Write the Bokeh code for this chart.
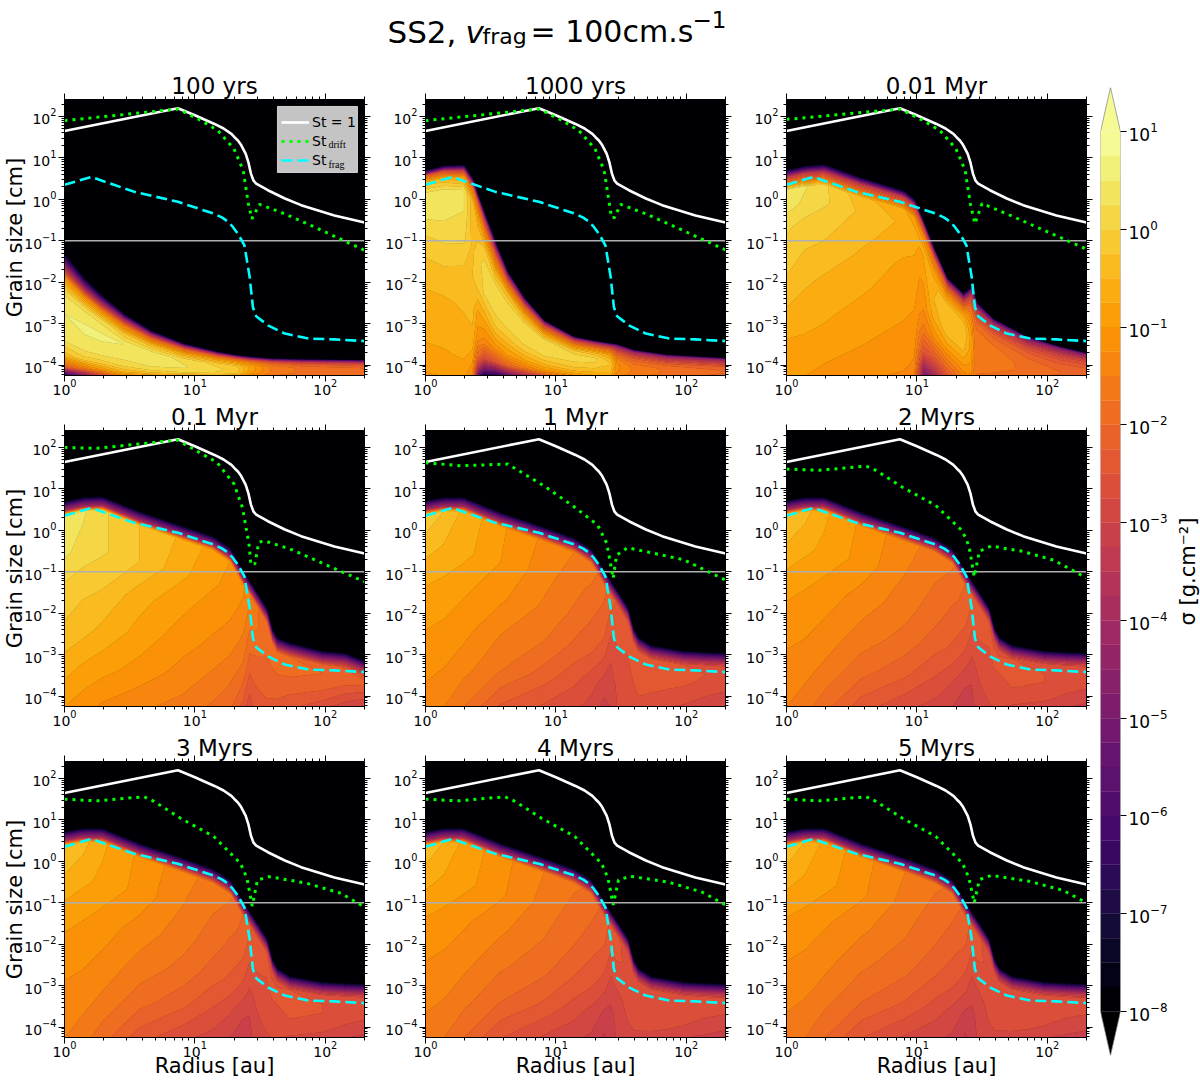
import numpy as np
from bokeh.plotting import figure
from bokeh.plotting.contour import contour_data
from bokeh.layouts import column, row
from bokeh.models import (Range1d, LogAxis, FixedTicker, CustomJSTickFormatter, Label,
                          Legend, LegendItem)
from bokeh.palettes import Inferno256
from bokeh.embed import file_html
from bokeh.resources import INLINE

TITLES = ["100 yrs", "1000 yrs", "0.01 Myr", "0.1 Myr", "1 Myr", "2 Myrs", "3 Myrs", "4 Myrs", "5 Myrs"]
X_MIN, X_MAX = 1, 200
Y_MIN, Y_MAX = 5.6e-5, 257
MAJOR_X = [1, 10, 100]
MAJOR_Y = [1e-4, 1e-3, 1e-2, 1e-1, 1, 10, 100]
LEVELS = list(np.arange(-8, 1.01, 0.25))
HLINE = 0.1

# --- curves (log10 radius, log10 grain size)
ST1_R = [0, .87, 1.0, 1.15, 1.22, 1.28, 1.304, 1.33, 1.355, 1.39, 1.41, 1.43, 1.45, 1.47, 1.56, 1.69, 1.815, 2.07, 2.301]
ST1_A = [1.65, 2.2, 2.03, 1.82, 1.71, 1.58, 1.5, 1.42, 1.31, 1.1, .9, .62, .45, .38, .22, .02, -.14, -.39, -.56]
FRAG_R = [0, .205, .537, .87, 1.15, 1.21, 1.25, 1.29, 1.33, 1.38, 1.42, 1.445, 1.47, 1.56, 1.69, 1.87, 2.07, 2.301]
FRAG_A = [.35, .54, .18, -.06, -.35, -.44, -.53, -.66, -.83, -1.11, -1.87, -2.6, -2.82, -3.04, -3.24, -3.36, -3.38, -3.42]
DRIFT = [
    ([0, .87, 1.05, 1.176, 1.30, 1.37, 1.41, 1.437, 1.496, 1.69, 1.94, 2.301],
     [1.9, 2.18, 1.9, 1.66, 1.22, .70, -.10, -.47, -.12, -.35, -.70, -1.23]),
    ([0, .87, 1.05, 1.176, 1.30, 1.37, 1.41, 1.427, 1.45, 1.496, 1.69, 1.94, 2.301],
     [1.9, 2.18, 1.9, 1.66, 1.22, .70, -.10, -.44, -.44, -.12, -.35, -.70, -1.22]),
    ([0, .87, 1.05, 1.176, 1.30, 1.37, 1.41, 1.445, 1.50, 1.69, 1.94, 2.301],
     [1.93, 2.18, 1.9, 1.66, 1.22, .70, -.10, -.59, -.10, -.35, -.70, -1.2]),
    ([0, .25, .865, 1.17, 1.30, 1.365, 1.415, 1.43, 1.46, 1.49, 1.53, 1.73, 1.99, 2.301],
     [2.0, 1.98, 2.18, 1.64, 1.12, .55, -.33, -.83, -.81, -.29, -.25, -.45, -.81, -1.24]),
    ([0, .27, .63, .69, .91, 1.14, 1.32, 1.39, 1.44, 1.465, 1.55, 1.70, 1.98, 2.301],
     [1.63, 1.56, 1.6, 1.49, 1.07, .57, .13, -.31, -1.16, -.6, -.42, -.52, -.71, -1.2]),
    ([0, .25, .61, .685, .89, 1.145, 1.35, 1.40, 1.44, 1.48, 1.57, 1.80, 2.05, 2.301],
     [1.48, 1.45, 1.55, 1.45, 1.04, .6, -.02, -.38, -1.12, -.5, -.38, -.5, -.72, -1.15]),
    ([0, .25, .61, .685, .89, 1.145, 1.35, 1.40, 1.44, 1.48, 1.57, 1.86, 2.12, 2.301],
     [1.5, 1.46, 1.56, 1.45, 1.04, .6, -.05, -.41, -1.08, -.45, -.37, -.53, -.77, -1.1]),
    ([0, .25, .61, .685, .89, 1.145, 1.35, 1.40, 1.44, 1.48, 1.57, 1.86, 2.12, 2.301],
     [1.5, 1.46, 1.56, 1.45, 1.04, .6, -.05, -.41, -1.05, -.45, -.36, -.5, -.74, -1.05]),
    ([0, .25, .61, .685, .89, 1.145, 1.35, 1.40, 1.44, 1.48, 1.57, 1.86, 2.12, 2.301],
     [1.5, 1.46, 1.56, 1.45, 1.04, .6, -.05, -.41, -1.0, -.44, -.34, -.48, -.7, -1.0]),
]

# --- density field: one list per radial column, rows run from the bottom of the axes to the dust edge
BOTTOM, TOP = -4.27, 2.5

P1_R = [0, .153, .28, .46, .665, .92, 1.176, 1.32, 1.43, 1.6, 1.815, 2.31]
P1_EDGE = [-1.27, -1.87, -2.27, -2.75, -3.16, -3.48, -3.68, -3.76, -3.8, -3.84, -3.86, -3.88]
P1_F = [0, .08, .17, .3, .5, .68, .8, .9, 1]
P1_Z = [
    [-7.5, -2, -.4, .35, .5, .2, -1.2, -4.5, -8],
    [-5, -1.5, -.1, .42, .55, .2, -1.2, -4.5, -8],
    [-3, -1, -.1, .42, .55, .15, -1.3, -4.3, -8],
    [-1.3, -.4, .05, .35, .5, -.25, -1.5, -4, -8],
    [-1.1, -.25, .2, .35, .42, -.4, -1.6, -4, -8],
    [-1, -.2, .2, .28, .15, -.7, -1.8, -4, -8],
    [-1, -.25, -.02, .05, -.1, -.85, -2, -4, -8],
    [-1.1, -.4, -.18, -.1, -.25, -1.0, -2.1, -4, -8],
    [-1.4, -1.2, -1, -.85, -.85, -1.3, -2.5, -4.5, -8],
    [-1.8, -1.7, -1.6, -1.6, -1.6, -1.9, -3, -5, -8],
    [-2, -1.9, -1.8, -1.8, -1.8, -2.2, -3.2, -5, -8],
    [-2.1, -2, -1.9, -1.9, -2, -2.4, -3.4, -5, -8],
]

P2_R = [0, .14, .295, .36, .40, .45, .537, .627, .755, .91, 1.14, 1.3, 1.42, 1.47, 1.6, 1.85, 2.31]
P2_EDGE = [.7, .82, .84, .54, .15, -.27, -.99, -1.71, -2.35, -2.92, -3.32, -3.42, -3.48, -3.5, -3.64, -3.76, -3.84]
P2_F = [0, .04, .1, .2, .35, .5, .65, .78, .88, .94, .97, 1]
P2_Z = [
    [-1.1, -.9, -.85, -.7, -.6, -.4, -.1, .3, .4, -.4, -2, -8],
    [-1.0, -.9, -.8, -.65, -.55, -.3, .05, .35, .35, -.55, -2.5, -8],
    [-.95, -.85, -.7, -.6, -.45, -.3, .05, .25, .25, -.85, -3, -8],
    [-1.3, -1.1, -.85, -.55, -.4, -.25, -.3, -.4, -.4, -1.5, -4, -8],
    [-5.5, -3.5, -2, -1.2, -.8, -.15, -.15, -.3, -.85, -2, -4, -8],
    [-7.5, -5, -2.8, -1.4, -.7, .02, .15, -.25, -1.3, -3, -5, -8],
    [-7, -5, -2.5, -1.2, -.3, .15, .2, -.7, -2, -4, -6, -8],
    [-6, -4, -2, -1, -.3, .15, .2, -.4, -1.8, -3.8, -5.5, -8],
    [-4.5, -3, -1.6, -.8, -.1, .2, .15, -.7, -2, -4, -5.5, -8],
    [-2.5, -1.8, -1.1, -.55, -.02, .2, .05, -1, -2.2, -4, -5.5, -8],
    [-1.2, -.95, -.65, -.3, -.02, .15, -.25, -1.2, -2.5, -4, -5.5, -8],
    [-.85, -.7, -.55, -.3, -.02, .05, -.4, -1.4, -2.7, -4.2, -5.5, -8],
    [-.85, -.7, -.55, -.4, -.25, -.4, -.85, -1.7, -3, -4.4, -5.6, -8],
    [-1.5, -1.4, -1.3, -1.2, -1.2, -1.4, -1.9, -2.6, -3.7, -4.8, -6, -8],
    [-1.7, -1.65, -1.6, -1.55, -1.6, -1.8, -2.2, -2.9, -3.8, -5, -6, -8],
    [-1.95, -1.9, -1.8, -1.8, -1.8, -2, -2.5, -3.2, -4, -5, -6, -8],
    [-2.2, -2.1, -2.05, -2, -2.05, -2.2, -2.7, -3.4, -4.2, -5.2, -6.2, -8],
]

P3_R = [0, .14, .29, .57, .9, .98, 1.02, 1.05, 1.1, 1.13, 1.23, 1.36, 1.417, 1.44, 1.46, 1.59, 1.85, 2.1, 2.31]
P3_EDGE = [.72, .82, .86, .54, .22, .02, -.28, -.5, -.9, -1.15, -1.87, -2.27, -2.11, -2.28, -2.47, -2.88, -3.32, -3.56, -3.72]
P3_F = [0, .06, .15, .3, .45, .6, .72, .82, .9, .96, 1]
P3_Z = [
    [-1, -.9, -.8, -.55, -.3, -.1, .05, .35, .42, -3, -8],
    [-1, -.95, -.8, -.65, -.45, -.25, -.1, .2, .28, -3, -8],
    [-1.05, -1, -.85, -.7, -.55, -.3, -.15, .05, .05, -3.2, -8],
    [-1.2, -1.1, -1, -.85, -.7, -.55, -.4, -.3, -.4, -3, -8],
    [-1.3, -1.2, -1.1, -1, -.9, -.8, -.65, -.55, -.7, -3, -8],
    [-1.45, -1.3, -1.2, -1.05, -.95, -.85, -.7, -.65, -1, -3, -8],
    [-3, -2.6, -1.9, -1.4, -1.1, -1, -.85, -.7, -1.1, -3, -8],
    [-5, -4, -2.5, -1.6, -1.2, -1, -.8, -.7, -1.2, -3.5, -8],
    [-4.5, -3.5, -2.4, -1.4, -.85, -.65, -.55, -.85, -1.5, -4, -8],
    [-4, -3.2, -2.3, -1.2, -.7, -.5, -.55, -1, -1.7, -4, -8],
    [-2.4, -2.1, -1.6, -.85, -.35, -.25, -.4, -1.1, -2.2, -4.5, -8],
    [-1.4, -1.2, -.95, -.5, -.25, -.35, -.7, -1.6, -2.8, -5, -8],
    [-1.3, -1.2, -1, -.85, -.85, -1.2, -1.6, -2.3, -3.2, -5, -8],
    [-1.7, -1.6, -1.5, -1.45, -1.5, -1.6, -1.9, -2.6, -3.5, -5.2, -8],
    [-1.8, -1.7, -1.6, -1.6, -1.6, -1.7, -2, -2.7, -3.6, -5.5, -8],
    [-1.9, -1.75, -1.65, -1.6, -1.65, -1.85, -2.2, -2.9, -3.8, -5.5, -8],
    [-2, -1.9, -1.8, -1.85, -2, -2.25, -2.7, -3.3, -4.1, -5.5, -8],
    [-2.1, -2, -2, -2.1, -2.3, -2.6, -3, -3.6, -4.3, -5.5, -8],
    [-2.2, -2.1, -2.1, -2.2, -2.4, -2.7, -3.1, -3.8, -4.5, -5.8, -8],
]

LATE_R = [0, .14, .29, .575, .91, 1.14, 1.27, 1.37, 1.42, 1.47, 1.55, 1.59, 1.63, 1.73, 1.98, 2.15, 2.31]
P4_EDGE = [.71, .81, .83, .47, .11, -.13, -.41, -.97, -1.2, -1.45, -1.86, -2.34, -2.58, -2.7, -2.9, -2.95, -3.14]
LATE_EDGE = [.73, .81, .81, .45, .09, -.17, -.43, -.96, -1.2, -1.44, -1.84, -2.32, -2.56, -2.76, -2.9, -2.93, -2.95]
LATE_F = [0, .2, .4, .6, .8, 1]
FRINGE_DEPTH = [.35, .25, .12, 0]
FRINGE_Z = [-3.5, -5.5, -8]
P4_Z = [
    [-1.0, -.65, -.3, -.1, .3, .45],
    [-1.15, -.8, -.4, -.2, .15, .3],
    [-1.3, -.9, -.55, -.25, .05, .05],
    [-1.45, -1.1, -.85, -.65, -.25, -.25],
    [-1.6, -1.35, -1.15, -.95, -.7, -.55],
    [-1.8, -1.55, -1.3, -1.15, -.95, -.85],
    [-1.95, -1.7, -1.45, -1.25, -1.1, -1],
    [-2.35, -2, -1.7, -1.5, -1.3, -1.2],
    [-2.7, -2.4, -2.1, -1.85, -1.6, -1.45],
    [-2.3, -2.25, -2.1, -1.9, -1.7, -1.7],
    [-2.3, -2.2, -2.1, -2, -1.9, -1.9],
    [-2.35, -2.2, -2.1, -2, -1.9, -2],
    [-2.4, -2.2, -2.1, -2, -1.95, -2],
    [-2.45, -2.3, -2.1, -2, -1.95, -2],
    [-2.7, -2.45, -2.25, -2.05, -2, -2.1],
    [-2.85, -2.7, -2.4, -2.2, -2.1, -2.3],
    [-2.9, -2.8, -2.6, -2.3, -2.2, -2.7],
]
MYR1_Z = [
    [-1.35, -1.2, -1.0, -.8, -.45, -.05],
    [-1.5, -1.25, -1.05, -.85, -.55, -.25],
    [-1.75, -1.4, -1.15, -.95, -.65, -.55],
    [-2.3, -1.75, -1.5, -1.2, -1, -.95],
    [-2.55, -2.1, -1.75, -1.55, -1.4, -1.3],
    [-2.7, -2.4, -2.05, -1.8, -1.65, -1.5],
    [-2.85, -2.6, -2.2, -2.0, -1.8, -1.6],
    [-3.1, -2.85, -2.5, -2.2, -2.05, -1.9],
    [-3.0, -2.9, -2.75, -2.55, -2.3, -2.1],
    [-2.75, -2.7, -2.65, -2.5, -2.3, -2.3],
    [-2.7, -2.6, -2.55, -2.5, -2.4, -2.45],
    [-2.65, -2.55, -2.5, -2.45, -2.4, -2.5],
    [-2.65, -2.5, -2.45, -2.4, -2.4, -2.5],
    [-2.7, -2.55, -2.45, -2.4, -2.4, -2.45],
    [-2.8, -2.65, -2.55, -2.45, -2.45, -2.5],
    [-2.9, -2.8, -2.65, -2.55, -2.5, -2.55],
    [-2.95, -2.9, -2.75, -2.6, -2.55, -2.6],
]
MYR3_Z = [
    [-1.5, -1.35, -1.15, -.95, -.6, -.2],
    [-1.65, -1.4, -1.2, -1, -.7, -.4],
    [-1.9, -1.55, -1.3, -1.1, -.8, -.7],
    [-2.4, -1.9, -1.6, -1.35, -1.1, -1.05],
    [-2.7, -2.2, -1.85, -1.65, -1.5, -1.4],
    [-2.85, -2.5, -2.15, -1.9, -1.75, -1.6],
    [-3, -2.7, -2.3, -2.1, -1.9, -1.7],
    [-3.2, -2.95, -2.6, -2.3, -2.1, -2.0],
    [-3.1, -3, -2.8, -2.6, -2.35, -2.2],
    [-2.85, -2.8, -2.7, -2.55, -2.35, -2.35],
    [-2.8, -2.65, -2.6, -2.55, -2.45, -2.5],
    [-2.75, -2.6, -2.55, -2.5, -2.45, -2.55],
    [-2.75, -2.6, -2.55, -2.5, -2.45, -2.55],
    [-2.8, -2.6, -2.5, -2.45, -2.45, -2.5],
    [-2.9, -2.7, -2.6, -2.5, -2.5, -2.55],
    [-3, -2.85, -2.7, -2.6, -2.55, -2.6],
    [-3.05, -2.95, -2.8, -2.65, -2.6, -2.65],
]
MYR5_Z = [
    [-1.6, -1.45, -1.25, -1.05, -.7, -.3],
    [-1.75, -1.5, -1.3, -1.1, -.8, -.5],
    [-2, -1.65, -1.4, -1.2, -.9, -.8],
    [-2.5, -2, -1.7, -1.45, -1.2, -1.15],
    [-2.8, -2.3, -1.95, -1.75, -1.6, -1.5],
    [-2.95, -2.6, -2.25, -2, -1.85, -1.7],
    [-3.05, -2.8, -2.4, -2.2, -2, -1.8],
    [-3.3, -3.05, -2.7, -2.4, -2.2, -2.1],
    [-3.2, -3.1, -2.9, -2.7, -2.45, -2.3],
    [-2.95, -2.9, -2.8, -2.65, -2.45, -2.45],
    [-2.85, -2.75, -2.7, -2.65, -2.55, -2.6],
    [-2.85, -2.7, -2.65, -2.6, -2.55, -2.65],
    [-2.85, -2.7, -2.65, -2.6, -2.55, -2.65],
    [-2.9, -2.7, -2.6, -2.55, -2.55, -2.6],
    [-3, -2.8, -2.7, -2.6, -2.6, -2.65],
    [-3.05, -2.95, -2.8, -2.7, -2.65, -2.7],
    [-3.1, -3, -2.9, -2.75, -2.7, -2.75],
]
PANELS = [
    (P1_R, P1_EDGE, P1_F, P1_Z, False),
    (P2_R, P2_EDGE, P2_F, P2_Z, False),
    (P3_R, P3_EDGE, P3_F, P3_Z, False),
    (LATE_R, P4_EDGE, LATE_F, P4_Z, True),
    (LATE_R, LATE_EDGE, LATE_F, MYR1_Z, True),
    (LATE_R, LATE_EDGE, LATE_F, MYR3_Z, True),
    (LATE_R, LATE_EDGE, LATE_F, MYR3_Z, True),
    (LATE_R, LATE_EDGE, LATE_F, MYR5_Z, True),
    (LATE_R, LATE_EDGE, LATE_F, MYR5_Z, True),
]

FONT = "DejaVu Sans"
BAND_COLORS = [Inferno256[int((i + .5) / 36 * 255)] for i in range(36)]


def ticks_minor(lo, hi):
    out = []
    for e in range(lo, hi):
        out += [m * 10.0 ** e for m in range(2, 10)]
    return out


XT = FixedTicker(ticks=MAJOR_X, minor_ticks=[v for v in ticks_minor(0, 3) if v <= X_MAX])
YT = FixedTicker(ticks=MAJOR_Y, minor_ticks=[v for v in ticks_minor(-5, 3) if Y_MIN <= v <= Y_MAX])


def pow10(obj):
    if isinstance(obj, (list, tuple)):
        return [pow10(o) for o in obj]
    return 10.0 ** np.asarray(obj)


def build_grid(logr, edge, fracs, z, fringe):
    logr = np.array(logr); edge = np.array(edge); z = np.array(z, float).T
    depth = FRINGE_DEPTH[0] if fringe else 0.0
    top_i = np.maximum(edge - depth, BOTTOM + .12)
    rows_y = [BOTTOM + f * (top_i - BOTTOM) for f in fracs]
    rows_z = [z[j] for j in range(len(fracs))]
    if fringe:
        for d, v in zip(FRINGE_DEPTH[1:], FRINGE_Z):
            rows_y.append(np.maximum(edge - d, top_i + .01 * (1 + 10 * (.35 - d))))
            rows_z.append(np.full(len(logr), v))
    rows_y.append(np.full(len(logr), TOP))
    rows_z.append(np.full(len(logr), -9.0))
    Y = np.array(rows_y)
    X = np.tile(logr, (Y.shape[0], 1))
    return X, Y, np.array(rows_z)


def style_axis(ax):
    ax.major_tick_out = 6; ax.major_tick_in = 0
    ax.minor_tick_out = 3; ax.minor_tick_in = 0
    ax.major_tick_line_color = "black"; ax.minor_tick_line_color = "black"
    ax.axis_line_color = "black"
    ax.major_label_text_font = FONT
    ax.major_label_text_font_size = "14px"
    ax.major_label_text_color = "black"
    ax.major_label_standoff = 2
    ax.axis_label_text_font = FONT
    ax.axis_label_text_font_size = "21px"
    ax.axis_label_text_font_style = "normal"
    ax.axis_label_text_color = "black"
    ax.axis_label_standoff = 0


def px_x(px):
    return 10 ** ((px - 64) / 130.4)


def px_y(py):
    return 10 ** (2 - (py - 116) / 41.43)


def make_panel(i):
    col_i, row_i = i % 3, i // 3
    left = 64 if col_i == 0 else 50
    right = 11
    top = 31 if row_i == 0 else 30
    bottom = 43 if row_i == 2 else 25
    p = figure(width=left + 300 + right, height=top + 276 + bottom,
               x_axis_type="log", y_axis_type="log",
               x_range=Range1d(X_MIN, X_MAX), y_range=Range1d(Y_MIN, Y_MAX),
               min_border_left=left, min_border_right=right, min_border_top=top, min_border_bottom=bottom,
               background_fill_color="#000004", border_fill_color=None,
               output_backend="svg", toolbar_location=None)
    p.grid.visible = False
    p.outline_line_color = "black"
    for ax, tk in ((p.xaxis[0], XT), (p.yaxis[0], YT)):
        ax.ticker = tk
        style_axis(ax)
    p.xaxis[0].major_label_standoff = -3
    if row_i == 2:
        p.xaxis[0].axis_label = "Radius [au]"
        p.xaxis[0].axis_label_standoff = -6
    if col_i == 0:
        p.yaxis[0].axis_label = "Grain size [cm]"
        p.yaxis[0].axis_label_standoff = -6
    blank = CustomJSTickFormatter(code='return "";')
    for side, tk in (("right", YT), ("above", XT)):
        ax = LogAxis(ticker=tk, formatter=blank)
        style_axis(ax)
        ax.major_label_standoff = 0
        if side == "above":
            ax.axis_label = TITLES[i]
            ax.axis_label_text_font_size = "23px"
            ax.axis_label_standoff = -5
        p.add_layout(ax, side)

    lr, edge, fr, zz, fringe = PANELS[i]
    X, Y, Z = build_grid(lr, edge, fr, zz, fringe)
    cd = contour_data(X, Y, Z, LEVELS, want_line=False)
    fd = cd.fill_data
    p.multi_polygons(xs=pow10(fd.xs), ys=pow10(fd.ys), fill_color=BAND_COLORS,
                     line_color=BAND_COLORS, line_width=0.4)

    p.line([X_MIN, X_MAX], [HLINE, HLINE], line_color="#b0b0b0", line_width=1.6)
    r1 = p.line(10.0 ** np.array(ST1_R), 10.0 ** np.array(ST1_A), line_color="white", line_width=2.6)
    dr, da = DRIFT[i]
    r2 = p.line(10.0 ** np.array(dr), 10.0 ** np.array(da), line_color="#00ff00", line_width=3,
                line_dash=[3, 5], line_cap="butt")
    r3 = p.line(10.0 ** np.array(FRAG_R), 10.0 ** np.array(FRAG_A), line_color="#00ffff", line_width=2.6,
                line_dash=[11, 5])

    if i == 0:
        p.quad(left=[px_x(277)], right=[px_x(357)], bottom=[px_y(172)], top=[px_y(106)],
               fill_color="#c4c4c4", line_color="#d0d0d0")
        p.text([px_x(328), px_x(328)], [px_y(144.5), px_y(164)], text=["drift", "frag"], text_font=FONT,
               text_font_size="10px", text_color="black", text_baseline="alphabetic")
        leg = Legend(items=[LegendItem(label="St = 1", renderers=[r1]),
                            LegendItem(label="St", renderers=[r2]),
                            LegendItem(label="St", renderers=[r3])],
                     location=(213, 203), glyph_width=28, glyph_height=16, label_standoff=3,
                     spacing=3, padding=4, margin=0, background_fill_alpha=0,
                     border_line_alpha=0, label_text_font=FONT, label_text_font_size="14px",
                     label_text_color="black")
        p.add_layout(leg)
    return p


panels = [make_panel(i) for i in range(9)]
grid = column(row(*panels[:3]), row(*panels[3:6]), row(*panels[6:9]))

# colour bar
CB_TICKS = [10.0 ** e for e in range(-8, 2)]
cb = figure(width=75, height=1002, y_axis_type="log", x_range=Range1d(0, 1),
            y_range=Range1d(10 ** -8.45, 10 ** 1.45),
            min_border_left=3, min_border_right=52, min_border_top=19, min_border_bottom=15,
            x_axis_location=None, y_axis_location="right", border_fill_color=None,
            output_backend="svg", toolbar_location=None)
cb.grid.visible = False
cb.outline_line_color = None
ax = cb.yaxis[0]
ax.ticker = FixedTicker(ticks=CB_TICKS, minor_ticks=[])
style_axis(ax)
ax.axis_line_color = None
ax.major_label_text_font_size = "17px"
lv = np.array(LEVELS)
cb.quad(left=0, right=1, bottom=10.0 ** lv[:-1], top=10.0 ** lv[1:], fill_color=BAND_COLORS,
        line_color=BAND_COLORS, line_width=.3)
cb.patch([0, 1, .5], [10.0 ** 1, 10.0 ** 1, 10 ** 1.45], fill_color=BAND_COLORS[-1], line_color=None)
cb.patch([0, 1, .5], [1e-8, 1e-8, 10 ** -8.45], fill_color="black", line_color=None)
cb.line([0, .5, 1, 1, .5, 0, 0], [10.0, 10 ** 1.45, 10.0, 1e-8, 10 ** -8.45, 1e-8, 10.0],
        line_color="#808080", line_width=1, line_alpha=.7)

# colour-bar label: a left axis of a thin strip reads upward and is centred on the bar
strip = figure(width=28, height=1002, x_range=Range1d(0, 1), y_range=Range1d(0, 1),
               min_border_left=26, min_border_right=0, min_border_top=19, min_border_bottom=15,
               x_axis_location=None, border_fill_color=None, background_fill_color=None,
               outline_line_color=None, output_backend="svg", toolbar_location=None)
strip.grid.visible = False
sa = strip.yaxis[0]
sa.ticker = FixedTicker(ticks=[], minor_ticks=[])
sa.major_tick_line_color = None
sa.minor_tick_line_color = None
sa.axis_line_color = None
sa.axis_label = "σ [g.cm⁻²]"
sa.axis_label_text_font = FONT
sa.axis_label_text_font_size = "21px"
sa.axis_label_text_font_style = "normal"
sa.axis_label_text_color = "black"
sa.axis_label_standoff = 0

# super title (positions are page pixels on a blank strip)
top_fig = figure(width=1184, height=68, x_range=Range1d(0, 1184), y_range=Range1d(68, 0),
                 min_border=0, outline_line_color=None, border_fill_color=None,
                 output_backend="svg", toolbar_location=None)
top_fig.axis.visible = False
top_fig.grid.visible = False
for txt, px, py, size, style in (("SS2,", 387, 31, "31px", "normal"),
                                 ("v", 465, 31, "31px", "italic"),
                                 ("frag", 482, 36, "22px", "normal"),
                                 ("= 100cm.s", 530, 31, "30px", "normal"),
                                 ("−1", 692, 19, "23px", "normal")):
    top_fig.add_layout(Label(x=px, y=py, text=txt, text_font=FONT, text_font_size=size,
                             text_font_style=style, text_color="black", text_baseline="alphabetic"))

page = column(top_fig, row(grid, cb, strip))
open("out.html", "w").write(file_html(page, INLINE))
